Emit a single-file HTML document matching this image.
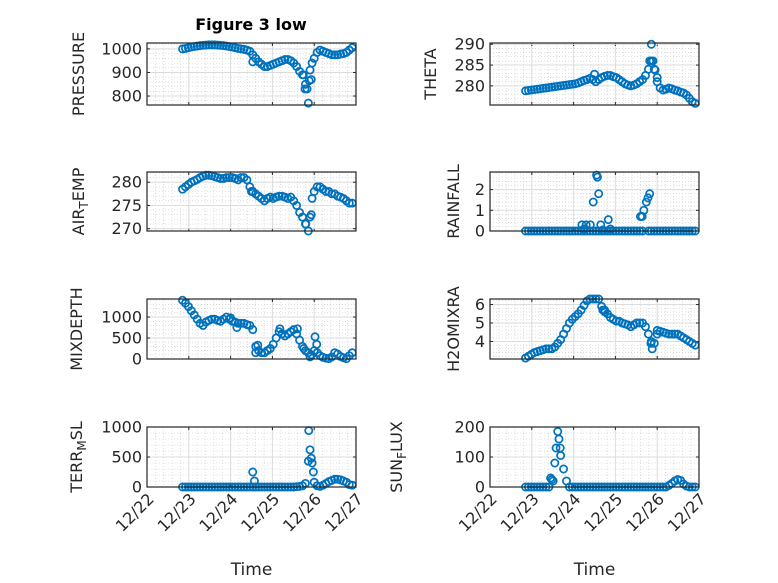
<!DOCTYPE html>
<html><head><meta charset="utf-8"><style>
html,body{margin:0;padding:0;background:#fff}
svg{display:block;font-family:"DejaVu Sans","Liberation Sans",sans-serif}
</style></head><body>
<svg id="fig" width="778" height="583" viewBox="0 0 778 583" xmlns="http://www.w3.org/2000/svg">
<rect x="0" y="0" width="778" height="583" fill="#fff"/>
<text x="251" y="30" text-anchor="middle" font-size="16" font-weight="bold" fill="#000">Figure 3 low</text>
</svg>
<script>
const times=[22.85,22.92,22.99,23.06,23.13,23.20,23.27,23.34,23.41,23.48,23.55,23.62,23.69,23.76,23.83,23.90,23.97,24.04,24.11,24.18,24.25,24.32,24.39,24.46,24.53,24.60,24.67,24.74,24.81,24.88,24.95,25.02,25.09,25.16,25.23,25.30,25.37,25.44,25.51,25.58,25.65,25.72,25.79,25.86,25.93,26.00,26.07,26.14,26.21,26.28,26.35,26.42,26.49,26.56,26.63,26.70,26.77,26.84,26.91];
const xTickDays=[22,23,24,25,26,27];
const xTickLabels=["12/22","12/23","12/24","12/25","12/26","12/27"];
const pressure=[1000,1002,1005,1008,1010,1012,1014,1015,1016,1017,1017,1017,1016,1015,1014,1012,1010,1008,1005,1002,1000,998,995,990,975,960,945,935,925,925,930,935,940,945,950,955,955,950,940,925,905,890,850,770,870,960,985,995,990,985,980,975,975,975,978,980,985,995,1005];
const pressureExtra=[[24.53,945],[25.78,830],[25.83,830],[25.9,910],[25.95,940],[25.74,890],[25.88,865]];
const theta=[278.8,278.9,279,279.1,279.2,279.3,279.4,279.5,279.6,279.7,279.8,279.9,280,280.1,280.2,280.3,280.4,280.5,280.7,281,281.3,281.5,281.8,281.5,281,281.5,282,282.3,282.5,282.5,282.2,282,281.5,281,280.5,280.2,280,280.2,280.5,281,281.5,282.5,284,286,284,281,279.5,279,279.2,279.5,279.3,279,278.8,278.5,278.3,277.8,277,276.2,275.8];
const thetaExtra=[[24.5,282.8],[25.86,290],[25.82,286],[25.9,286],[25.95,283.8],[26,282]];
const airTemp=[278.5,279,279.5,280,280.3,280.6,281,281.3,281.5,281.5,281.4,281.2,281,280.8,280.8,281,281,281,280.8,280.5,281,281,280.5,279,278,277.5,277,276.5,276,276.5,276.8,276.5,276.8,277,277,276.8,276.5,276.8,276,275,273.5,272.5,271,269.5,273,278,279,279,278.5,278,278,277.5,277.5,277,276.8,276.5,276,275.5,275.5];
const airTempExtra=[[24.5,278],[25.8,271],[25.9,272.5],[25.95,276.5]];
const rainfall=[0,0,0,0,0,0,0,0,0,0,0,0,0,0,0,0,0,0,0,0,0,0,0,0,0,0,0,0,0,0,0,0,0,0,0,0,0,0,0,0,0,null,0,0,0,0,0,0,0,0,0,0,0,0,0,0,0,0,0];
const rainfallExtra=[[24.2,0.3],[24.25,0.1],[24.3,0.3],[24.4,0.3],[24.47,1.4],[24.55,2.7],[24.57,2.6],[24.6,1.8],[24.65,0.3],[24.7,0.05],[24.83,0.55],[24.88,0.1],[25.6,0.7],[25.64,0.7],[25.68,1.0],[25.74,1.4],[25.78,1.6],[25.82,1.8]];
const mixDepth=[1400,1330,1250,1150,1050,950,850,800,880,920,950,950,920,900,950,1000,950,900,880,850,850,850,820,800,700,300,200,150,150,200,250,350,500,650,600,550,600,650,700,600,450,300,200,150,100,200,150,80,40,20,10,50,150,120,60,30,10,80,150];
const mixDepthExtra=[[24.6,150],[24.65,330],[25.18,720],[25.6,720],[25.75,250],[25.9,50],[26.02,530],[26.06,350],[24.15,750],[24.0,980]];
const h2o=[3.1,3.2,3.3,3.4,3.45,3.5,3.55,3.6,3.6,3.6,3.7,3.9,4.1,4.4,4.7,5.0,5.2,5.35,5.5,5.7,5.95,6.2,6.3,6.3,6.3,6.3,5.9,5.7,5.5,5.3,5.2,5.1,5.1,5.0,4.95,4.9,4.8,4.9,5.0,5.0,5.0,4.8,4.4,4.0,3.9,4.4,4.55,4.5,4.45,4.4,4.4,4.4,4.4,4.3,4.2,4.1,4.0,3.9,3.8];
const h2oExtra=[[25.88,3.6],[25.85,3.9],[26.0,4.6],[24.7,5.7],[24.75,5.6]];
const terrMsl=[0,0,0,0,0,0,0,0,0,0,0,0,0,0,0,0,0,0,0,0,0,0,0,0,0,0,0,0,0,0,0,0,0,0,0,0,0,0,0,5,10,20,60,430,480,80,20,10,30,60,90,110,130,130,120,100,80,40,30];
const terrMslExtra=[[24.53,250],[24.57,100],[25.87,940],[25.9,620],[25.95,400],[25.98,250]];
const sunFlux=[0,0,0,0,0,0,0,0,0,25,80,185,105,60,20,0,0,0,0,0,0,0,0,0,0,0,0,0,0,0,0,0,0,0,0,0,0,0,0,0,0,0,0,0,0,0,0,0,0,5,12,20,25,22,10,3,0,0,0];
const sunFluxExtra=[[23.45,30],[23.58,130],[23.65,160],[23.68,130],[23.51,20]];

const NS='http://www.w3.org/2000/svg';
const svg=document.getElementById('fig');
function mk(tag,attrs,parent){const e=document.createElementNS(NS,tag);for(const k in attrs)e.setAttribute(k,attrs[k]);(parent||svg).appendChild(e);return e;}
const C='#0072BD';
const panels=[
 {name:'pressure',lab:['PRESSURE'],L:147,T:43,B:105,ymin:762,ymax:1025,ticks:[800,900,1000],v:pressure,ex:pressureExtra,lx:78},
 {name:'theta',lab:['THETA'],L:490,T:43,B:105,ymin:275.4,ymax:290.3,ticks:[280,285,290],v:theta,ex:thetaExtra,lx:430},
 {name:'air-temp',lab:['AIR','T','EMP'],L:147,T:172,B:231,ymin:269.5,ymax:282.2,ticks:[270,275,280],v:airTemp,ex:airTempExtra,lx:78},
 {name:'rainfall',lab:['RAINFALL'],L:490,T:172,B:231,ymin:0,ymax:2.85,ticks:[0,1,2],v:rainfall,ex:rainfallExtra,lx:453},
 {name:'mixdepth',lab:['MIXDEPTH'],L:147,T:299,B:359,ymin:0,ymax:1430,ticks:[0,500,1000],v:mixDepth,ex:mixDepthExtra,lx:76},
 {name:'h2omixra',lab:['H2OMIXRA'],L:490,T:299,B:359,ymin:3.05,ymax:6.3,ticks:[4,5,6],v:h2o,ex:h2oExtra,lx:453},
 {name:'terr-msl',lab:['TERR','M','SL'],L:147,T:427,B:487,ymin:0,ymax:1000,ticks:[0,500,1000],v:terrMsl,ex:terrMslExtra,lx:76,bottom:true},
 {name:'sun-flux',lab:['SUN','F','LUX'],L:490,T:427,B:487,ymin:0,ymax:200,ticks:[0,100,200],v:sunFlux,ex:sunFluxExtra,lx:396,bottom:true}
];
const W=209;
panels.forEach(p=>{
  const g=mk('g',{});
  
  
  const X=d=>p.L+(d-22)/5*W;
  const Y=v=>p.B-(v-p.ymin)/(p.ymax-p.ymin)*(p.B-p.T);
  for(let d=22;d<27;d++)for(let k=1;k<5;k++){const x=X(d+k/5);mk('line',{x1:x,x2:x,y1:p.T,y2:p.B,stroke:'#c8c8c8','stroke-width':0.6,'stroke-dasharray':'1,2'},g);}
  const step=p.ticks[1]-p.ticks[0];
  for(let v=p.ticks[0]-step;v<=p.ymax;v+=step/5){if(v<=p.ymin||v>=p.ymax)continue;const y=Y(v);mk('line',{x1:p.L,x2:p.L+W,y1:y,y2:y,stroke:'#c8c8c8','stroke-width':0.6,'stroke-dasharray':'1,2'},g);}
  xTickDays.forEach(d=>{const x=X(d);mk('line',{x1:x,x2:x,y1:p.T,y2:p.B,stroke:'#dcdcdc','stroke-width':1},g);
    mk('line',{x1:x,x2:x,y1:p.B,y2:p.B-3,stroke:'#262626'},g);mk('line',{x1:x,x2:x,y1:p.T,y2:p.T+3,stroke:'#262626'},g);});
  p.ticks.forEach(v=>{const y=Y(v);mk('line',{x1:p.L,x2:p.L+W,y1:y,y2:y,stroke:'#dcdcdc','stroke-width':1},g);
    mk('line',{x1:p.L,x2:p.L+3,y1:y,y2:y,stroke:'#262626'},g);mk('line',{x1:p.L+W,x2:p.L+W-3,y1:y,y2:y,stroke:'#262626'},g);
    const t=mk('text',{x:p.L-5,y:y+5.5,'text-anchor':'end','font-size':16,fill:'#262626'},g);t.textContent=v;
    });
  const marks=mk('g',{fill:'none',stroke:C,'stroke-width':1.7},g);
  
  
  p.v.forEach((v,i)=>{if(v===null)return;const c=mk('circle',{cx:X(times[i]),cy:Y(v),r:3.6},marks);
    });
  p.ex.forEach(e=>{const c=mk('circle',{cx:X(e[0]),cy:Y(e[1]),r:3.6},marks);
    });
  mk('rect',{x:p.L,y:p.T,width:W,height:p.B-p.T,fill:'none',stroke:'#262626','stroke-width':1.2},g);
  const cy=(p.T+p.B)/2;
  const lt=mk('text',{x:0,y:0,'text-anchor':'middle','font-size':16,fill:'#262626',transform:`translate(${p.lx+6},${cy}) rotate(-90)`},g);
  
  if(p.lab.length===1){lt.textContent=p.lab[0];}
  else{const a=mk('tspan',{},lt);a.textContent=p.lab[0];const b=mk('tspan',{'font-size':12,dy:4},lt);b.textContent=p.lab[1];const c=mk('tspan',{dy:-4},lt);c.textContent=p.lab[2];}
  if(p.bottom){
    xTickDays.forEach((d,i)=>{const x=X(d);const t=mk('text',{'text-anchor':'end','font-size':16,fill:'#262626',transform:`translate(${x+8},${p.B+13}) rotate(-45)`},g);
      t.textContent=xTickLabels[i];});
    const xt=mk('text',{x:p.L+W/2,y:575,'text-anchor':'middle','font-size':17,fill:'#262626'},g);xt.textContent='Time';
    
  }
});
</script>
</body></html>
